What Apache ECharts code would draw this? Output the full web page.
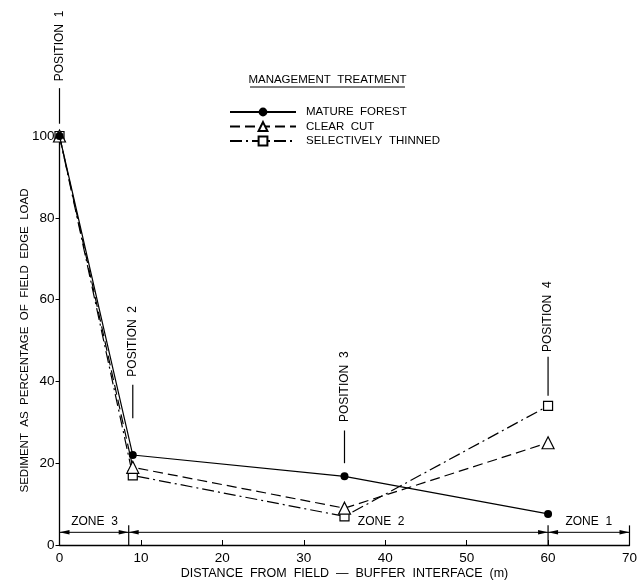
<!DOCTYPE html>
<html><head><meta charset="utf-8">
<script src="https://cdn.jsdelivr.net/npm/echarts@6/dist/echarts.min.js"></script>
<style>html,body{margin:0;padding:0;background:#fff}#c{width:640px;height:585px}</style>
</head><body><div id="c"></div>
<script>
// ---- data ----
const distances = [0, 9, 35, 60];
const matureForest = [100, 22, 16.8, 7.6];
const clearCut = [100, 19, 9, 25];
const selectivelyThinned = [100, 17, 7, 34];
const seriesNames = ['MATURE  FOREST', 'CLEAR  CUT', 'SELECTIVELY  THINNED'];
const xTicks = [0, 10, 20, 30, 40, 50, 60, 70];
const yTicks = [0, 20, 40, 60, 80, 100];
// annotations (data units)
const positionNames = ['POSITION  1', 'POSITION  2', 'POSITION  3', 'POSITION  4'];
const positionX = [0, 9, 35, 60];
const positionLineFrom = [103, 31, 20, 36.5];
const positionLineTo = [111.7, 39.2, 28, 46];
const positionTextY = [122, 49.8, 38.7, 55.8];
const zoneNames = ['ZONE  3', 'ZONE  2', 'ZONE  1'];
const zoneBounds = [0, 8.5, 60, 70];
const zoneLabelX = [4.3, 39.5, 65];
const zoneArrowY = 3.1;
const zoneLabelY = 5.6;
const zoneTickTop = 4.8;

const FONT = "'Liberation Sans', Arial, sans-serif";
const chart = echarts.init(document.getElementById('c'), null, {renderer: 'canvas'});

const pairs = (ys) => distances.map((x, i) => [x, ys[i]]);

const option = {
  animation: false,
  backgroundColor: '#fff',
  grid: {left: 59.5, right: 4, top: 136, bottom: 38, containLabel: false},
  legend: {
    data: seriesNames,
    orient: 'vertical',
    left: 224, top: 101,
    itemWidth: 66, itemHeight: 11, itemGap: 2.5,
    textStyle: {fontSize: 11.5, fontFamily: FONT, color: '#000', padding: [0, 0, 0, 5]},
    selectedMode: false
  },
  xAxis: {
    type: 'value', min: 0, max: 70, interval: 10,
    name: 'DISTANCE  FROM  FIELD  —  BUFFER  INTERFACE  (m)',
    nameLocation: 'middle', nameGap: 22, nameMoveOverlap: false,
    nameTextStyle: {fontSize: 12.5, fontFamily: FONT, color: '#000'},
    axisLine: {lineStyle: {color: '#000', width: 1.3}},
    axisTick: {show: true, inside: true, length: 5, lineStyle: {color: '#000'}},
    axisLabel: {fontSize: 13.5, fontFamily: FONT, color: '#000', margin: 6,
      formatter: (v) => xTicks.includes(v) ? String(v) : ''},
    splitLine: {show: false}
  },
  yAxis: {
    type: 'value', min: 0, max: 100, interval: 20,
    name: 'SEDIMENT  AS  PERCENTAGE  OF  FIELD  EDGE  LOAD',
    nameLocation: 'middle', nameGap: 29, nameMoveOverlap: false,
    nameTextStyle: {fontSize: 11.5, fontFamily: FONT, color: '#000'},
    axisLine: {show: true, lineStyle: {color: '#000', width: 1.3}},
    axisTick: {show: true, inside: false, length: 4, lineStyle: {color: '#000'}},
    axisLabel: {fontSize: 13.5, fontFamily: FONT, color: '#000', margin: 5,
      formatter: (v) => yTicks.includes(v) ? String(v) : ''},
    splitLine: {show: false}
  },
  series: [
    {
      name: seriesNames[2], type: 'line', data: pairs(selectivelyThinned),
      symbol: 'rect', symbolSize: 9, z: 2,
      lineStyle: {color: '#000', width: 1.2, type: [12, 4, 2, 4]},
      itemStyle: {color: '#fff', borderColor: '#000', borderWidth: 1.2}
    },
    {
      name: seriesNames[1], type: 'line', data: pairs(clearCut),
      symbol: 'triangle', symbolSize: 12, z: 3,
      lineStyle: {color: '#000', width: 1.2, type: [10, 5]},
      itemStyle: {color: '#fff', borderColor: '#000', borderWidth: 1.2}
    },
    {
      name: seriesNames[0], type: 'line', data: pairs(matureForest),
      symbol: 'circle', symbolSize: 8, z: 4,
      lineStyle: {color: '#000', width: 1.2, type: 'solid'},
      itemStyle: {color: '#000'}
    }
  ]
};
chart.setOption(option);

const px = (x, y) => chart.convertToPixel({gridIndex: 0}, [x, y]);
const g = [];
positionNames.forEach((n, i) => {
  const t = px(positionX[i], positionTextY[i]);
  const a = px(positionX[i], positionLineFrom[i]);
  const b = px(positionX[i], positionLineTo[i]);
  g.push({type: 'text', x: t[0], y: t[1], rotation: Math.PI / 2, silent: true,
    style: {text: n, fontSize: 12, fontFamily: FONT, fill: '#000', align: 'center', verticalAlign: 'middle'}});
  g.push({type: 'line', silent: true, shape: {x1: a[0], y1: a[1], x2: b[0], y2: b[1]},
    style: {stroke: '#000', lineWidth: 1.2}});
});
// zone arrows
const AL = 10, AW = 2.3;
zoneNames.forEach((n, i) => {
  const a = px(zoneBounds[i], zoneArrowY);
  const b = px(zoneBounds[i + 1], zoneArrowY);
  g.push({type: 'line', silent: true, shape: {x1: a[0], y1: a[1], x2: b[0], y2: b[1]},
    style: {stroke: '#000', lineWidth: 1}});
  g.push({type: 'polygon', silent: true, shape: {points: [[a[0], a[1]], [a[0] + AL, a[1] - AW], [a[0] + AL, a[1] + AW]]},
    style: {fill: '#000'}});
  g.push({type: 'polygon', silent: true, shape: {points: [[b[0], b[1]], [b[0] - AL, b[1] - AW], [b[0] - AL, b[1] + AW]]},
    style: {fill: '#000'}});
  const p = px(zoneLabelX[i], zoneLabelY);
  g.push({type: 'text', x: p[0], y: p[1], silent: true,
    style: {text: n, fontSize: 12, fontFamily: FONT, fill: '#000', align: 'center', verticalAlign: 'middle'}});
});
for (let i = 1; i < zoneBounds.length; i++) {
  const a = px(zoneBounds[i], 0);
  const b = px(zoneBounds[i], zoneTickTop);
  g.push({type: 'line', silent: true, shape: {x1: a[0], y1: a[1], x2: b[0], y2: b[1]},
    style: {stroke: '#000', lineWidth: 1.2}});
}
g.push({type: 'text', x: 327.5, y: 80, silent: true,
  style: {text: 'MANAGEMENT  TREATMENT', fontSize: 11.5, fontFamily: FONT, fill: '#000', align: 'center', verticalAlign: 'middle'}});
g.push({type: 'line', silent: true, shape: {x1: 250, y1: 87, x2: 405, y2: 87}, style: {stroke: '#000', lineWidth: 1}});
chart.setOption({graphic: g});
</script>
</body></html>
